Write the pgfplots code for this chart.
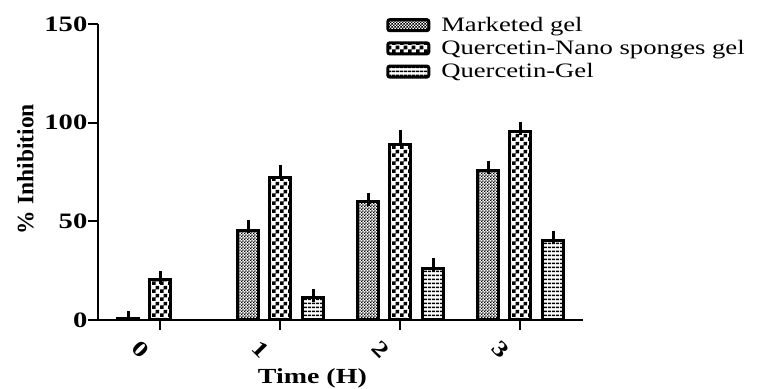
\documentclass[border=0pt]{standalone}
\usepackage{fontspec}
\setmainfont{Liberation Serif}[FakeStretch=1.3]
\newfontfamily\plainserif{Liberation Serif}
\usepackage{pgfplots}
\pgfplotsset{compat=1.18}
\usetikzlibrary{patterns}

\pgfdeclarepatternformonly{finecheck}{\pgfpointorigin}{\pgfpoint{3.4bp}{3.4bp}}{\pgfpoint{3.4bp}{3.4bp}}{%
  \pgfpathrectangle{\pgfpointorigin}{\pgfpoint{1.5bp}{1.5bp}}%
  \pgfpathrectangle{\pgfpoint{1.7bp}{1.7bp}}{\pgfpoint{1.5bp}{1.5bp}}%
  \pgfusepath{fill}}
\pgfdeclarepatternformonly{bigcheck}{\pgfpointorigin}{\pgfpoint{8bp}{8bp}}{\pgfpoint{8bp}{8bp}}{%
  \pgfpathrectangle{\pgfpointorigin}{\pgfpoint{4bp}{4bp}}%
  \pgfpathrectangle{\pgfpoint{4bp}{4bp}}{\pgfpoint{4bp}{4bp}}%
  \pgfusepath{fill}}
\pgfdeclarepatternformonly{hlines}{\pgfpoint{0bp}{0bp}}{\pgfpoint{4bp}{4bp}}{\pgfpoint{4bp}{4bp}}{%
  \pgfpathrectangle{\pgfpoint{0bp}{1.1bp}}{\pgfpoint{4bp}{1.8bp}}%
  \pgfusepath{fill}}

\pgfplotstableread{
x y e
0 0.8 0.5
1 45.5 2
2 60 1
3 76 1.5
}\marketed
\pgfplotstableread{
x y e
0 20.5 1
1 72 3.5
2 89 4
3 95.5 1.5
}\nano
\pgfplotstableread{
x y e
1 11.5 1
2 26 2
3 40.5 1.5
}\gel

\pgfplotsset{
  errstyle/.style={/pgfplots/error bars/y dir=plus, /pgfplots/error bars/y explicit,
    /pgfplots/error bars/error mark=-,
    /pgfplots/error bars/error bar style={line width=3bp, black},
    /pgfplots/error bars/error mark options={line width=3bp, mark size=6.5bp, black}},
}

\begin{document}
\begin{tikzpicture}
\useasboundingbox (0,0) rectangle (758bp,389bp);
\begin{axis}[
  at={(98bp,69bp)}, anchor=south west,
  scale only axis, width=485bp, height=296bp,
  xmin=-0.517, xmax=3.525, ymin=0, ymax=150,
  axis x line*=bottom, axis y line*=left,
  axis line style={line width=2bp, black},
  xtick={0,1,2,3}, xticklabels={0,1,2,3},
  ytick={0,50,100,150}, yticklabels={0,50,100,150},
  tick align=outside, major tick length=10bp,
  tick style={line width=2bp, black},
  every tick label/.append style={font=\fontsize{22bp}{26bp}\selectfont\bfseries},
  yticklabel style={inner sep=0.5bp},
  xticklabel style={rotate=-45, anchor=center, yshift=-28bp},
  xlabel={Time (H)},
  xlabel style={font=\fontsize{21.5bp}{26bp}\selectfont\bfseries, at={(axis description cs:0.442,-0.196)}, anchor=center},
  ylabel={\% Inhibition},
  ylabel style={font=\plainserif\fontsize{23.5bp}{28bp}\selectfont\bfseries, at={(axis description cs:-0.15,0.51)}, anchor=center},
  ybar, bar width=20.5bp,
  legend cell align=left,
  legend style={at={(axis description cs:0.594,1.03)}, anchor=north west, draw=none, fill=none,
    font=\fontsize{20.5bp}{24bp}\selectfont, row sep=3.5bp, inner sep=0pt,
    /tikz/every odd column/.append style={column sep=9bp}},
]
\addplot[draw=black, line width=3bp, pattern=finecheck, pattern color=black, bar shift=-32bp, errstyle,
  legend image code/.code={\draw[line width=3bp, rounded corners=2bp, pattern=finecheck, pattern color=black] (0bp,-5.5bp) rectangle (41bp,5.5bp);}]
  table[x=x, y=y, y error=e] {\marketed};
\addplot[draw=black, line width=3bp, pattern=bigcheck, pattern color=black, bar shift=0bp, errstyle,
  legend image code/.code={\draw[line width=3bp, rounded corners=2bp, pattern=bigcheck, pattern color=black] (0bp,-5.5bp) rectangle (41bp,5.5bp);}]
  table[x=x, y=y, y error=e] {\nano};
\addplot[draw=black, line width=3bp, pattern=hlines, pattern color=black, bar shift=33bp, errstyle,
  legend image code/.code={\draw[line width=3bp, rounded corners=2bp, pattern=hlines, pattern color=black] (0bp,-5.5bp) rectangle (41bp,5.5bp);}]
  table[x=x, y=y, y error=e] {\gel};
\legend{Marketed gel, Quercetin-Nano sponges gel, Quercetin-Gel}
\end{axis}
\end{tikzpicture}
\end{document}
